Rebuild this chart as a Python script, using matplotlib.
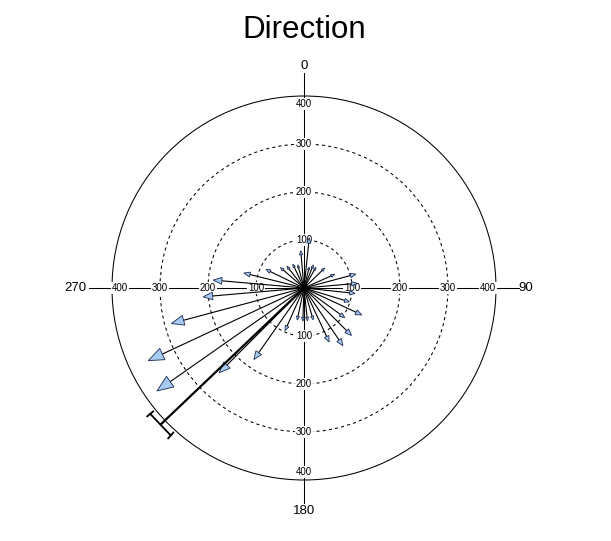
import numpy as np
import matplotlib
matplotlib.use('Agg')
from matplotlib import pyplot as plt
from matplotlib.patches import Circle, Polygon

plt.rcParams['font.family'] = ['Liberation Sans', 'DejaVu Sans']

# Data ---------------------------------------------------------------------------------
# compass angle (deg, clockwise from north) and length of each vector
angles = [6, 355, 335, 322, 311, 296, 284, 275, 265, 255, 245, 235, 225, 215, 204,
          192, 182, 174, 164, 155, 146, 135, 126, 115, 107, 96, 85, 75, 66, 46, 30, 22, 14, 345]
lengths = [105, 78, 55, 58, 65, 88, 129, 190, 211, 286, 358, 374, 250, 182, 97,
           68, 69, 69, 69, 124, 145, 140, 105, 133, 99, 107, 111, 112, 70, 60, 50, 52, 45, 50]

mean_angle = 226.4
mean_length = 414
mean_ci = 4.3  # half width of the angular confidence interval (deg)

ring_radii = [100, 200, 300, 400]
cardinal_angles = [0, 90, 180, 270]
cardinal_labels = ['0', '90', '180', '270']
# --------------------------------------------------------------------------------------

px = 0.48          # pixels per unit
cx, cy = 304, 288  # centre of the plot, pixels from top-left
W, H = 611, 541


def to_xy(theta, r):
    t = np.radians(theta)
    return r * np.sin(t), r * np.cos(t)


fig = plt.figure(figsize=(W / 100, H / 100), dpi=100)
ax = fig.add_axes([0, 0, 1, 1])
ax.set_xlim(-cx / px, (W - cx) / px)
ax.set_ylim(-(H - cy) / px, cy / px)
ax.axis('off')

# rings and axes -----------------------------------------------------------------------
for r in ring_radii:
    ls = '-' if r == ring_radii[-1] else (0, (3, 3))
    ax.add_patch(Circle((0, 0), r, fill=False, lw=0.75, ls=ls, ec='black', zorder=1))

ax.plot([-448, 448], [0, 0], color='black', lw=0.75, zorder=1)
ax.plot([0, 0], [-448, 448], color='black', lw=0.75, zorder=1)

for a in cardinal_angles:
    for r in ring_radii:
        rr = r - 16 if r == ring_radii[-1] else r
        x, y = to_xy(a, rr)
        ax.text(x, y, str(r), fontsize=7, ha='center', va='center', zorder=2,
                bbox=dict(boxstyle='square,pad=0.1', fc='white', ec='none'))

label_r = {0: 462, 90: 462, 180: 464, 270: 477}
for a, lab in zip(cardinal_angles, cardinal_labels):
    x, y = to_xy(a, label_r[a])
    ax.text(x, y, lab, fontsize=9.5, ha='center', va='center')

ax.text(0, (cy - 30) / px, 'Direction', fontsize=22.5, ha='center', va='center')

# vectors ------------------------------------------------------------------------------
for a, r in zip(angles, lengths):
    hl = 2 + 0.085 * r
    hw = 0.8 * hl
    t = np.radians(a)
    tx, ty = to_xy(a, r)
    bx, by = to_xy(a, r - hl)
    ax.plot([0, bx], [0, by], color='black', lw=0.8, zorder=3)
    px_, py_ = np.cos(t), -np.sin(t)
    head = [(tx, ty), (bx + px_ * hw / 2, by + py_ * hw / 2), (bx - px_ * hw / 2, by - py_ * hw / 2)]
    ax.add_patch(Polygon(head, closed=True, fc='#a6caf0', ec='#1a2a50', lw=0.6, zorder=4))

ax.add_patch(Circle((0, 0), 9, fc='black', ec='none', zorder=4))

# mean vector with confidence interval -------------------------------------------------
mx, my = to_xy(mean_angle, mean_length)
ax.plot([0, mx], [0, my], color='black', lw=1.6, solid_capstyle='butt', zorder=5)
e1 = to_xy(mean_angle - mean_ci, mean_length)
e2 = to_xy(mean_angle + mean_ci, mean_length)
ax.plot([e1[0], e2[0]], [e1[1], e2[1]], color='black', lw=1.3, zorder=5)
for a in [mean_angle - mean_ci, mean_angle + mean_ci]:
    c1 = to_xy(a, mean_length - 8)
    c2 = to_xy(a, mean_length + 8)
    ax.plot([c1[0], c2[0]], [c1[1], c2[1]], color='black', lw=1.3, zorder=5)

fig.savefig('out.png', dpi=100)
